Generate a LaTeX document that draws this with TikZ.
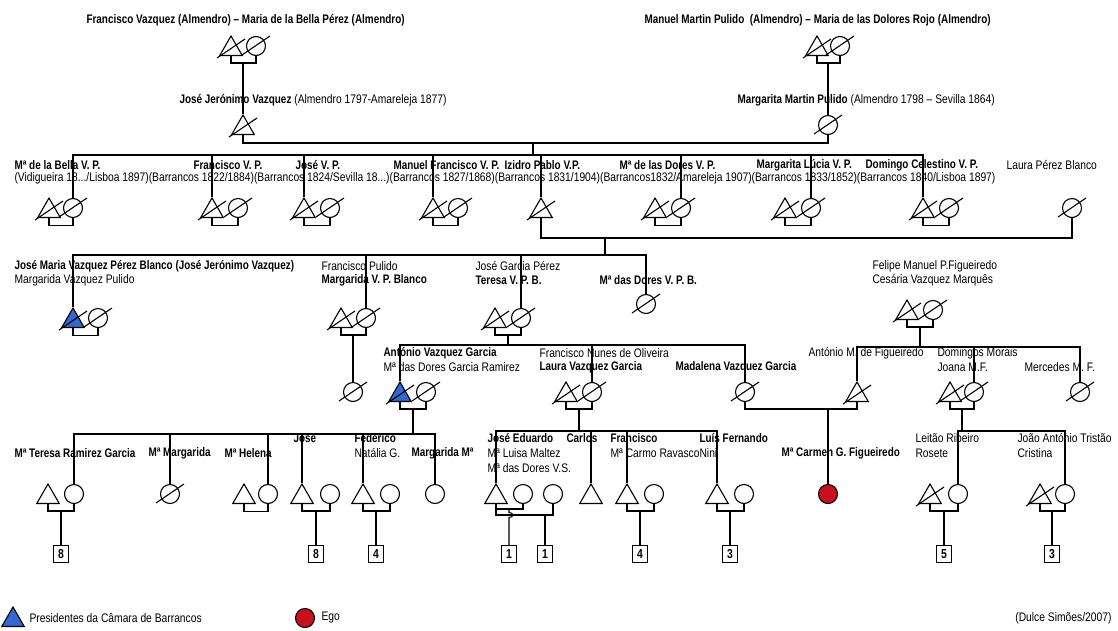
\documentclass[tikz,border=0pt]{standalone}
\usepackage{fontspec}
\setmainfont{Liberation Sans}[FakeStretch=0.83, BoldFeatures={FakeStretch=0.80}]
\usetikzlibrary{shapes.geometric}
\definecolor{presblue}{RGB}{52,104,206}
\definecolor{egored}{RGB}{200,16,32}
\newcommand{\lblfont}{\fontsize{12.4}{14}\selectfont}

\begin{document}
\begin{tikzpicture}[x=1pt, y=-1pt, line width=1.1pt,
  male/.style={draw, regular polygon, regular polygon sides=3, minimum size=26pt,
               inner sep=0pt, yshift=-3pt},
  female/.style={draw, circle, minimum size=19pt, inner sep=0pt},
  pres/.style={male, fill=presblue},
  ego/.style={female, fill=egored},
  kids/.style={draw, minimum width=15pt, minimum height=17pt, inner sep=0pt,
               font=\fontsize{13}{13}\selectfont\bfseries},
  lbl/.style={anchor=west, inner sep=0pt, font=\lblfont},
  blbl/.style={lbl, font=\lblfont\bfseries}
]
  \useasboundingbox (0,0) rectangle (1118,630);

  % generation 0
  \node[male] (fvA) at (231,46) {};
  \node[female] (mbpA) at (256,46) {};
  \node[male] (mmpA) at (817,46) {};
  \node[female] (mdrA) at (840,46) {};
  \node[blbl] (t0a) at (86,20) {Francisco Vazquez (Almendro) -- Maria de la Bella Pérez (Almendro)};
  \node[blbl] (t0b) at (644,20) {Manuel Martin Pulido\ \ (Almendro) -- Maria de las Dolores Rojo (Almendro)};

  % generation 1
  \node[male] (jjv) at (243,125) {};
  \node[female] (mmp) at (828,125) {};
  \node[lbl] (t1a) at (179,100) {\textbf{José Jerónimo Vazquez} (Almendro 1797-Amareleja 1877)};
  \node[lbl] (t1b) at (737,100) {\textbf{Margarita Martin Pulido} (Almendro 1798 -- Sevilla 1864)};

  % generation 2
  \node[male] (bellaH) at (49,208) {};
  \node[female] (bella) at (73,208) {};
  \node[male] (franc) at (212,208) {};
  \node[female] (francW) at (238,208) {};
  \node[male] (jose) at (304,208) {};
  \node[female] (joseW) at (330,208) {};
  \node[male] (manuel) at (433,208) {};
  \node[female] (manuelW) at (458,208) {};
  \node[male] (izidro) at (541,208) {};
  \node[male] (doresH) at (655,208) {};
  \node[female] (dores) at (681,208) {};
  \node[male] (marglH) at (785,208) {};
  \node[female] (margl) at (811,208) {};
  \node[male] (domingo) at (923,208) {};
  \node[female] (domingoW) at (949,208) {};
  \node[female] (laurapb) at (1072,208) {};

  \node[blbl] (t2a) at (14,165) {Mª de la Bella V. P.};
  \node[blbl] (t2b) at (193,165) {Francisco V. P.};
  \node[blbl] (t2c) at (295,165) {José V. P.};
  \node[blbl] (t2d) at (393,165) {Manuel Francisco V. P.};
  \node[blbl] (t2e) at (504,165) {Izidro Pablo V.P.};
  \node[blbl] (t2f) at (619,165) {Mª de las Dores V. P.};
  \node[blbl] (t2g) at (756,165) {Margarita Lúcia V. P.};
  \node[blbl] (t2h) at (865,165) {Domingo Celestino V. P.};
  \node[lbl] (t2i) at (1006,165) {Laura Pérez Blanco};
  \node[lbl] (t2dates) at (14,178) {(Vidigueira 18.../Lisboa 1897)(Barrancos 1822/1884)(Barrancos 1824/Sevilla 18...)(Barrancos 1827/1868)(Barrancos 1831/1904)(Barrancos1832/Amareleja 1907)(Barrancos 1833/1852)(Barrancos 1840/Lisboa 1897)};

  % generation 3
  \node[pres] (jmaria) at (73,318) {};
  \node[female] (jmariaW) at (98,318) {};
  \node[male] (margH) at (341,318) {};
  \node[female] (marg) at (366,318) {};
  \node[male] (teresaH) at (495,318) {};
  \node[female] (teresa) at (521,318) {};
  \node[female] (doresb) at (646,304) {};
  \node[male] (felipe) at (907,310) {};
  \node[female] (cesaria) at (933,310) {};

  \node[blbl] (t3a) at (14,266) {José Maria Vazquez Pérez Blanco (José Jerónimo Vazquez)};
  \node[lbl] (t3b) at (14,280) {Margarida Vazquez Pulido};
  \node[lbl] (t3c) at (321,266) {Francisco Pulido};
  \node[blbl] (t3d) at (321,280) {Margarida V. P. Blanco};
  \node[lbl] (t3e) at (475,266) {José Garcia Pérez};
  \node[blbl] (t3f) at (475,280) {Teresa V. P. B.};
  \node[blbl] (t3g) at (599,280) {Mª das Dores V. P. B.};
  \node[lbl] (t3h) at (872,266) {Felipe Manuel P.Figueiredo};
  \node[lbl] (t3i) at (872,280) {Cesária Vazquez Marquês};

  % generation 4
  \node[female] (margK) at (353,392) {};
  \node[pres] (antonio) at (400,392) {};
  \node[female] (antonioW) at (426,392) {};
  \node[male] (lauraH) at (566,392) {};
  \node[female] (laura) at (592,392) {};
  \node[female] (madalena) at (745,392) {};
  \node[male] (antoniomf) at (857,392) {};
  \node[male] (joanaH) at (950,392) {};
  \node[female] (joana) at (974,392) {};
  \node[female] (mercedes) at (1080,392) {};

  \node[blbl] (t4a) at (383,353) {António Vazquez Garcia};
  \node[lbl] (t4b) at (383,367) {Mª das Dores Garcia Ramirez};
  \node[lbl] (t4c) at (539,353) {Francisco Nunes de Oliveira};
  \node[blbl] (t4d) at (539,367) {Laura Vazquez Garcia};
  \node[blbl] (t4e) at (675,367) {Madalena Vazquez Garcia};
  \node[lbl] (t4f) at (808,353) {António M. de Figueiredo};
  \node[lbl] (t4g) at (937,353) {Domingos Morais};
  \node[lbl] (t4h) at (937,367) {Joana M.F.};
  \node[lbl] (t4i) at (1024,367) {Mercedes M. F.};

  % generation 5
  \node[male] (teresarH) at (48,494) {};
  \node[female] (teresar) at (74,494) {};
  \node[female] (mmarg) at (170,494) {};
  \node[male] (helenaH) at (244,494) {};
  \node[female] (helena) at (268,494) {};
  \node[male] (jose5) at (302,494) {};
  \node[female] (jose5W) at (330,494) {};
  \node[male] (federico) at (363,494) {};
  \node[female] (natalia) at (390,494) {};
  \node[female] (margm) at (435,494) {};
  \node[male] (jedu) at (496,494) {};
  \node[female] (luisa) at (523,494) {};
  \node[female] (doresvs) at (553,494) {};
  \node[male] (carlos) at (591,494) {};
  \node[male] (fran5) at (627,494) {};
  \node[female] (carmo) at (654,494) {};
  \node[male] (luis) at (717,494) {};
  \node[female] (nini) at (744,494) {};
  \node[ego] (carmen) at (828,494) {};
  \node[male] (leitao) at (930,494) {};
  \node[female] (rosete) at (958,494) {};
  \node[male] (joao) at (1040,494) {};
  \node[female] (cristina) at (1065,494) {};

  \node[blbl] (t5a) at (14,453) {Mª Teresa Ramirez Garcia};
  \node[blbl] (t5b) at (148,453) {Mª Margarida};
  \node[blbl] (t5c) at (224,453) {Mª Helena};
  \node[blbl] (t5d) at (293,438) {José};
  \node[blbl] (t5e) at (354,438) {Federico};
  \node[lbl] (t5f) at (354,453) {Natália G.};
  \node[blbl] (t5g) at (411,453) {Margarida Mª};
  \node[blbl] (t5h) at (487,438) {José Eduardo};
  \node[lbl] (t5i) at (487,453) {Mª Luisa Maltez};
  \node[lbl] (t5j) at (487,468) {Mª das Dores V.S.};
  \node[blbl] (t5k) at (566,438) {Carlos};
  \node[blbl] (t5l) at (610,438) {Francisco};
  \node[lbl] (t5m) at (610,453) {Mª Carmo Ravasco};
  \node[blbl] (t5n) at (699,438) {Luís Fernando};
  \node[lbl] (t5o) at (699,453) {Nini};
  \node[blbl] (t5p) at (781,453) {Mª Carmen G. Figueiredo};
  \node[lbl] (t5q) at (915,438) {Leitão Ribeiro};
  \node[lbl] (t5r) at (915,453) {Rosete};
  \node[lbl] (t5s) at (1017,438) {João António Tristão};
  \node[lbl] (t5t) at (1017,453) {Cristina};

  % descendants counts
  \node[kids] (k1) at (61,554) {8};
  \node[kids] (k2) at (316,554) {8};
  \node[kids] (k3) at (376,554) {4};
  \node[kids] (k4) at (509,554) {1};
  \node[kids] (k5) at (545,554) {1};
  \node[kids] (k6) at (640,554) {4};
  \node[kids] (k7) at (730,554) {3};
  \node[kids] (k8) at (944,554) {5};
  \node[kids] (k9) at (1052,554) {3};

  % legend
  \node[pres] (presL) at (13,617) {};
  \node[lbl] (presT) at (29,618) {Presidentes da Câmara de Barrancos};
  \node[ego] (egoL) at (305,618) {};
  \node[lbl] (egoT) at (321,618) {Ego};
  \node[lbl, anchor=east] (credit) at (1112,618) {(Dulce Simões/2007)};

  % deceased
  \foreach \n in {fvA,mbpA,mmpA,mdrA,jjv,mmp,bellaH,bella,franc,francW,jose,joseW,manuel,manuelW,izidro,doresH,dores,marglH,margl,domingo,domingoW,laurapb,jmaria,jmariaW,margH,marg,teresaH,teresa,doresb,felipe,cesaria,margK,antonio,antonioW,lauraH,laura,madalena,antoniomf,joanaH,joana,mercedes,mmarg,leitao,joao}
    \draw ([shift={(-14,9)}]\n.center) -- ([shift={(14,-10)}]\n.center);

  % unions and sibling bars
  \coordinate (c0a) at (243,63);
  \coordinate (c0b) at (828,63);
  \coordinate (c1) at (533,143);
  \coordinate (b1) at (533,155);
  \coordinate (c2) at (605,238);
  \coordinate (b2) at (605,255);
  \coordinate (c3a) at (353,335);
  \coordinate (c3b) at (508,335);
  \coordinate (b3b) at (508,345);
  \coordinate (c3c) at (920,327);
  \coordinate (b3c) at (920,347);
  \coordinate (c4a) at (413,409);
  \coordinate (b4a) at (413,434);
  \coordinate (c4b) at (579,409);
  \coordinate (b4b) at (579,431);
  \coordinate (c4c) at (828,409);
  \coordinate (c4d) at (962,409);
  \coordinate (b4d) at (962,431);

  \draw (fvA.south) |- (c0a) -| (mbpA.south);
  \draw (c0a) -- (jjv.north);
  \draw (mmpA.south) |- (c0b) -| (mdrA.south);
  \draw (c0b) -- (mmp.north);

  \draw (jjv.south) |- (c1) -| (mmp.south);
  \draw (c1) -- (b1);
  \draw (bella.north) |- (b1) -| (domingo.north);
  \foreach \k in {franc,jose,manuel,izidro,dores,margl}
    \draw (\k.north) -- (\k.north |- b1);

  \draw (izidro.south) |- (c2) -| (laurapb.south);
  \draw (c2) -- (b2);
  \draw (jmaria.north) |- (b2) -| (doresb.north);
  \foreach \k in {marg,teresa}
    \draw (\k.north) -- (\k.north |- b2);

  \foreach \a/\b in {bellaH/bella,franc/francW,jose/joseW,manuel/manuelW,doresH/dores,marglH/margl,domingo/domingoW,jmaria/jmariaW,helenaH/helena}
    \draw (\a.south) -- ++(0,7.5) -| (\b.south);

  \draw (margH.south) |- (c3a) -| (marg.south);
  \draw (c3a) -- (margK.north);

  \draw (teresaH.south) |- (c3b) -| (teresa.south);
  \draw (c3b) -- (b3b);
  \draw (antonio.north) |- (b3b) -| (madalena.north);
  \draw (laura.north) -- (laura.north |- b3b);

  \draw (felipe.south) |- (c3c) -| (cesaria.south);
  \draw (c3c) -- (b3c);
  \draw (antoniomf.north) |- (b3c) -| (mercedes.north);
  \draw (joana.north) -- (joana.north |- b3c);

  \draw (antonio.south) |- (c4a) -| (antonioW.south);
  \draw (c4a) -- (b4a);
  \draw (teresar.north) |- (b4a) -| (margm.north);
  \foreach \k in {mmarg,helena,jose5,federico}
    \draw (\k.north) -- (\k.north |- b4a);

  \draw (lauraH.south) |- (c4b) -| (laura.south);
  \draw (c4b) -- (b4b);
  \draw (jedu.north) |- (b4b) -| (luis.north);
  \foreach \k in {carlos,fran5}
    \draw (\k.north) -- (\k.north |- b4b);

  \draw (madalena.south) |- (c4c) -| (antoniomf.south);
  \draw (c4c) -- (carmen.north);

  \draw (joanaH.south) |- (c4d) -| (joana.south);
  \draw (c4d) -- (b4d);
  \draw (rosete.north) |- (b4d) -| (cristina.north);

  % couples with descendants
  \coordinate (c5a) at (61,511);
  \coordinate (c5b) at (316,511);
  \coordinate (c5c) at (376,511);
  \coordinate (c5d) at (509,509);
  \coordinate (c5e) at (545,515);
  \coordinate (c5f) at (640,511);
  \coordinate (c5g) at (730,511);
  \coordinate (c5h) at (944,511);
  \coordinate (c5i) at (1052,511);

  \foreach \a/\b/\c/\k in {teresarH/teresar/c5a/k1,jose5/jose5W/c5b/k2,federico/natalia/c5c/k3,jedu/doresvs/c5e/k5,fran5/carmo/c5f/k6,luis/nini/c5g/k7,leitao/rosete/c5h/k8,joao/cristina/c5i/k9}
  {
    \draw (\a.south) |- (\c) -| (\b.south);
    \draw (\c) -- (\k.north);
  }
  \draw (jedu.south) |- (c5d) -| (luisa.south);
  \draw (c5d) -- ++(0,3.5) .. controls +(5,0) and +(5,0) .. ++(0,5) -- (k4.north);

\end{tikzpicture}
\end{document}
